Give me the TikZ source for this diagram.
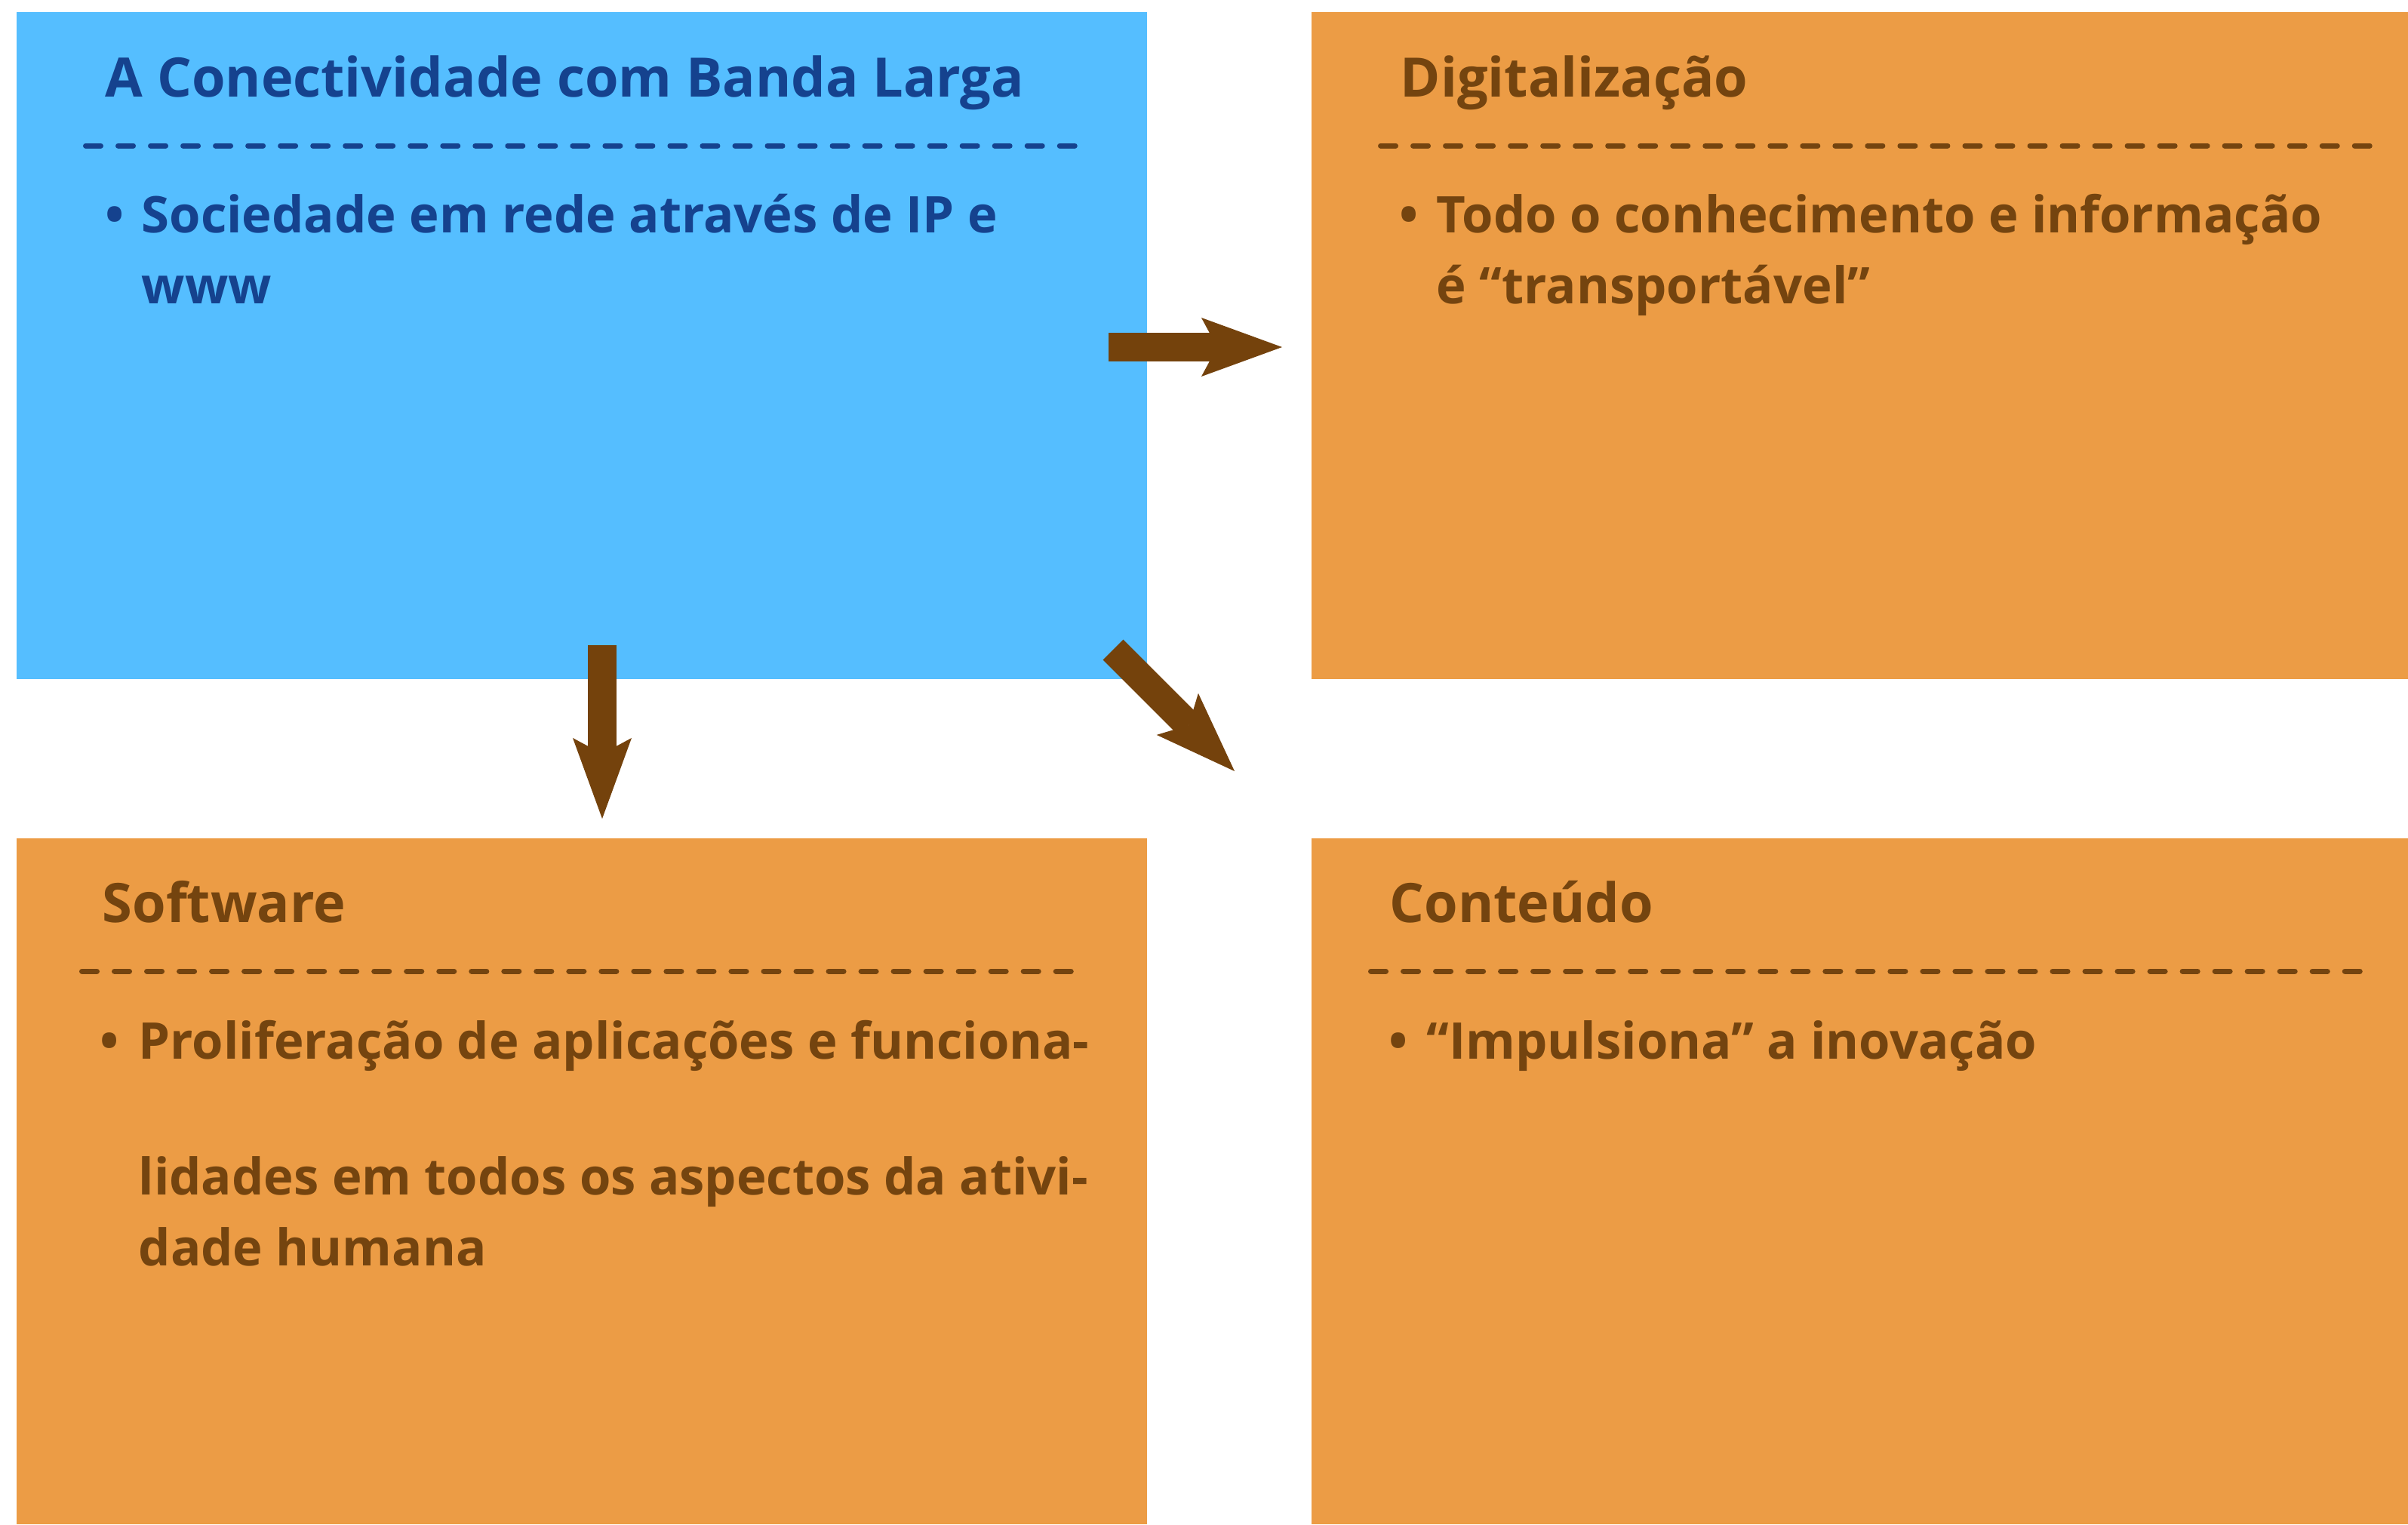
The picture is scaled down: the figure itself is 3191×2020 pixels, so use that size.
\documentclass[tikz,border=0pt]{standalone}
\usepackage{fontspec}
\setmainfont{Open Sans}
\usetikzlibrary{arrows.meta}
\definecolor{skyfill}{HTML}{55BEFF}
\definecolor{orangefill}{HTML}{EC9C45}
\definecolor{navytext}{HTML}{15428E}
\definecolor{browntext}{HTML}{74440F}
\definecolor{arrowbrown}{HTML}{74420C}
\tikzset{
  heading/.style={anchor=base west, inner sep=0pt, font=\fontsize{20.5}{24}\selectfont\bfseries},
  item/.style={anchor=base west, inner sep=0pt, font=\fontsize{19.05}{23}\selectfont\bfseries},
  dot/.style={anchor=base, inner sep=0pt, font=\fontsize{19.05}{23}\selectfont\bfseries},
  rule/.style={line width=0.07cm, line cap=round, dash pattern=on 0.2cm off 0.23cm},
  flow/.style={arrowbrown, line width=0.38cm,
    -{Stealth[length=1.07cm, width=0.78cm, inset=0.21cm, line width=0pt]}}
}

\begin{document}
\begin{tikzpicture}[x=0.01cm, y=-0.01cm]
  \useasboundingbox (0,0) rectangle (3191,2020);
  \coordinate (A) at (22,16);
  \coordinate (B) at (1520,900);
  \coordinate (C) at (1738,16);
  \coordinate (D) at (3191,900);
  \coordinate (E) at (22,1111);
  \coordinate (F) at (1520,2020);
  \coordinate (G) at (1738,1111);
  \coordinate (H) at (3191,2020);
  \fill[skyfill] (A) rectangle (B);
  \fill[orangefill] (C) rectangle (D);
  \fill[orangefill] (E) rectangle (F);
  \fill[orangefill] (G) rectangle (H);

  % banda larga
  \node[heading, navytext] (bandaT) at (139,128) {A Conectividade com Banda Larga};
  \draw[rule, navytext] (113.5,193) -- (1431,193);
  \node[dot, navytext] (bandaB) at (152,308) {•};
  \node[item, navytext] (banda1) at (187,308) {Sociedade em rede através de IP e};
  \node[item, navytext] (banda2) at (187,402) {www};

  % digitalizacao
  \node[heading, browntext] (digT) at (1855,128) {Digitalização};
  \draw[rule, browntext] (1829.5,193) -- (3146,193);
  \node[dot, browntext] (digB) at (1867,308) {•};
  \node[item, browntext] (dig1) at (1903,308) {Todo o conhecimento e informação};
  \node[item, browntext] (dig2) at (1903,402) {é “transportável”};

  % software
  \node[heading, browntext] (softT) at (135,1222) {Software};
  \draw[rule, browntext] (108.5,1287) -- (1425,1287);
  \node[dot, browntext] (softB) at (145,1403) {•};
  \node[item, browntext] (soft1) at (183,1403) {Proliferação de aplicações e funciona-};
  \node[item, browntext] (soft2) at (183,1583) {lidades em todos os aspectos da ativi-};
  \node[item, browntext] (soft3) at (183,1677) {dade humana};

  % conteudo
  \node[heading, browntext] (contT) at (1841,1222) {Conteúdo};
  \draw[rule, browntext] (1816.5,1287) -- (3130,1287);
  \node[dot, browntext] (contB) at (1853,1403) {•};
  \node[item, browntext] (cont1) at (1890,1403) {“Impulsiona” a inovação};

  % arrows
  \coordinate (r0) at (1469,460);
  \coordinate (r1) at (1699,460);
  \coordinate (d0) at (798,855);
  \coordinate (d1) at (798,1085);
  \coordinate (q0) at (1475,861);
  \coordinate (q1) at (1636,1022);
  \draw[flow] (r0) -- (r1);
  \draw[flow] (d0) -- (d1);
  \draw[flow] (q0) -- (q1);
\end{tikzpicture}
\end{document}
